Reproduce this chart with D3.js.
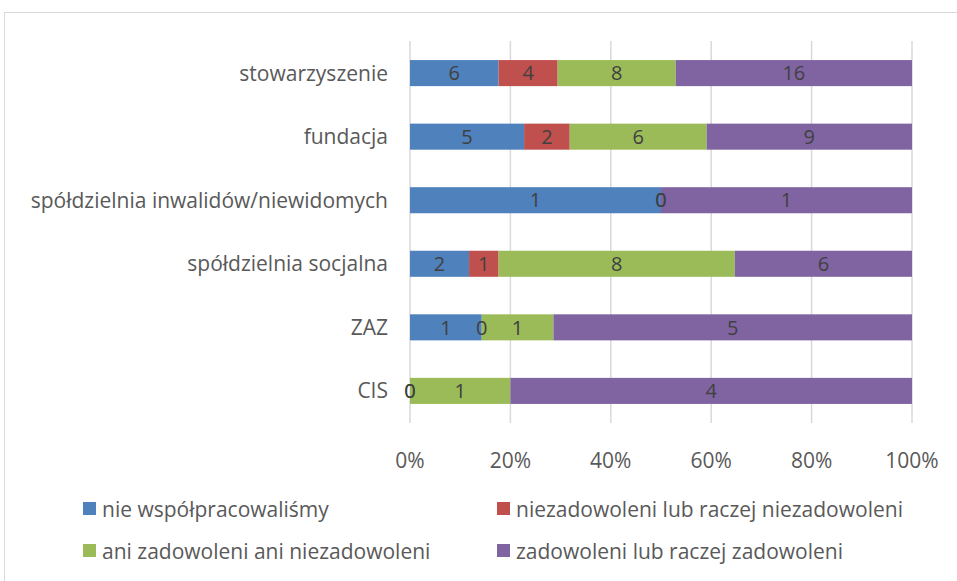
<!doctype html>
<html>
<head>
<meta charset="utf-8">
<script src="https://d3js.org/d3.v7.min.js"></script>
<style>
  body { margin: 0; background: #fff; }
  text { font-family: "Open Sans", sans-serif; fill: #595959; }
</style>
</head>
<body>
<div class="chart"></div>
<script>
var categories = ["stowarzyszenie", "fundacja", "spółdzielnia inwalidów/niewidomych", "spółdzielnia socjalna", "ZAZ", "CIS"];
var seriesNames = ["nie współpracowaliśmy", "niezadowoleni lub raczej niezadowoleni", "ani zadowoleni ani niezadowoleni", "zadowoleni lub raczej zadowoleni"];
var nieWspolpracowalismy = [6, 5, 1, 2, 1, 0];
var niezadowoleni = [4, 2, 0, 1, 0, 0];
var aniAni = [8, 6, 0, 8, 1, 1];
var zadowoleni = [16, 9, 1, 6, 5, 4];
var colors = ["#4F81BD", "#C0504D", "#9BBB59", "#8064A2"];
var tickValues = [0, 0.2, 0.4, 0.6, 0.8, 1];

var width = 957, height = 581;
var margin = {left: 410, right: 45, top: 41, bottom: 158};

var svg = d3.select(".chart").append("svg")
  .attr("width", width).attr("height", height);

svg.append("rect")
  .attr("x", 4.5).attr("y", 12.5)
  .attr("width", 980).attr("height", 600)
  .attr("fill", "none").attr("stroke", "#d9d9d9");

var x = d3.scaleLinear().domain([0, 1]).range([margin.left, width - margin.right]);
var y = d3.scaleBand().domain(categories)
  .range([margin.top, height - margin.bottom]).paddingInner(0.59).paddingOuter(0.3);

// gridlines
svg.append("g").selectAll("line").data(tickValues).enter().append("line")
  .attr("x1", function(d) { return x(d); }).attr("x2", function(d) { return x(d); })
  .attr("y1", margin.top).attr("y2", height - margin.bottom)
  .attr("stroke", "#d9d9d9").attr("stroke-width", 1.5);

var rows = categories.map(function(c, i) {
  var vals = [nieWspolpracowalismy[i], niezadowoleni[i], aniAni[i], zadowoleni[i]];
  var total = d3.sum(vals);
  var acc = 0;
  return vals.map(function(v, j) {
    var seg = {cat: c, s: j, v: v, x0: acc / total, x1: (acc + v) / total};
    acc += v;
    return seg;
  });
});
var segs = [].concat.apply([], rows);

svg.append("g").selectAll("rect").data(segs.filter(function(d) { return d.v > 0; })).enter().append("rect")
  .attr("x", function(d) { return x(d.x0); })
  .attr("width", function(d) { return x(d.x1) - x(d.x0); })
  .attr("y", function(d) { return y(d.cat); })
  .attr("height", y.bandwidth())
  .attr("fill", function(d) { return colors[d.s]; });

svg.append("g").selectAll("text").data(segs).enter().append("text")
  .attr("x", function(d) { return x((d.x0 + d.x1) / 2); })
  .attr("y", function(d) { return y(d.cat) + y.bandwidth() / 2; })
  .attr("dy", "0.36em")
  .attr("text-anchor", "middle")
  .style("font-size", "20px")
  .style("fill", "#404040")
  .text(function(d) { return d.v; });

// category labels
svg.append("g").selectAll("text").data(categories).enter().append("text")
  .attr("x", margin.left - 22)
  .attr("y", function(d) { return y(d) + y.bandwidth() / 2; })
  .attr("dy", "0.36em")
  .attr("text-anchor", "end")
  .style("font-size", "21px")
  .text(function(d) { return d; });

// x axis labels
svg.append("g").selectAll("text").data(tickValues).enter().append("text")
  .attr("x", function(d) { return x(d); })
  .attr("y", 460).attr("dy", "0.36em")
  .attr("text-anchor", "middle")
  .style("font-size", "21px")
  .text(function(d) { return d3.format(".0%")(d); });

// legend
var legendPos = [[83, 509], [497, 509], [83, 551], [497, 551]];
var lg = svg.append("g").selectAll("g").data(seriesNames).enter().append("g")
  .attr("transform", function(d, i) { return "translate(" + legendPos[i][0] + "," + legendPos[i][1] + ")"; });
lg.append("rect").attr("x", 0).attr("y", -7).attr("width", 13).attr("height", 13)
  .attr("fill", function(d, i) { return colors[i]; });
lg.append("text").attr("x", 19).attr("dy", "0.36em")
  .style("font-size", "21px")
  .text(function(d) { return d; });
</script>
</body>
</html>
